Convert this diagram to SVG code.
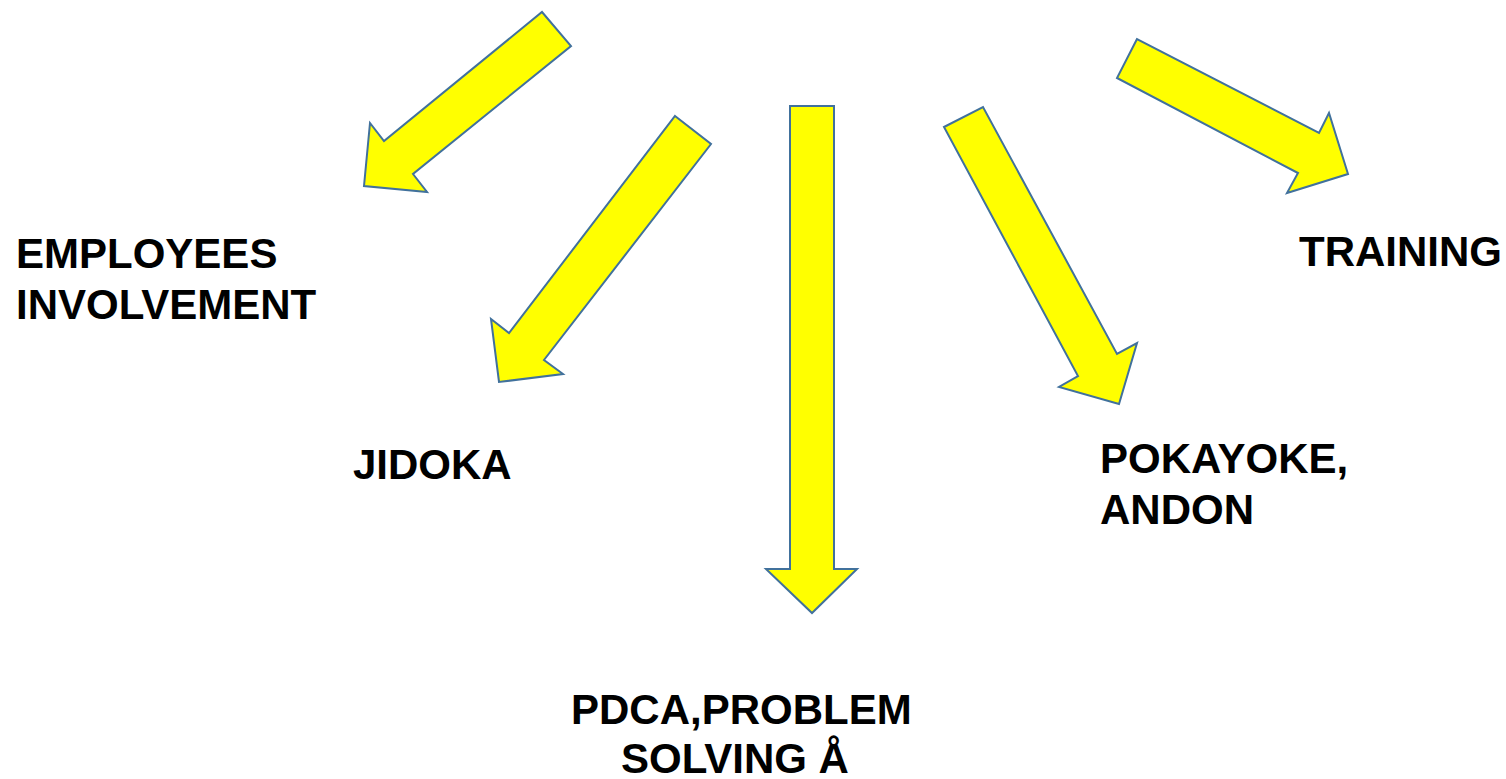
<svg xmlns="http://www.w3.org/2000/svg" width="1506" height="779" viewBox="0 0 1506 779">
  <style>
    .arrow { fill: #ffff00; stroke: #41719c; stroke-width: 2; stroke-linejoin: miter; }
    .label { font-family: "Liberation Sans", Arial, sans-serif; font-weight: bold; font-size: 42px; fill: #000000; }
  </style>
  <rect width="1506" height="779" fill="#ffffff"/>

  <g id="connectors">
    <polygon id="arrow-employees" class="arrow" points="542,12 571,46 413,174 427,192 364,186 370,123 384,141"/>
    <polygon id="arrow-jidoka" class="arrow" points="675,116 711,144 544,360 563,374 499,382 491,319 509,333"/>
    <polygon id="arrow-pdca" class="arrow" points="790,106 834,106 834,569 857,569 812,613 766,569 790,569"/>
    <polygon id="arrow-pokayoke" class="arrow" points="944,127 983,107 1117,354 1137,343 1119,404 1059,387 1078,376"/>
    <polygon id="arrow-training" class="arrow" points="1137,39 1117,78 1298,173 1287,193 1348,174 1329,113 1319,133"/>
  </g>

  <g id="node-employees">
    <text class="label" x="16" y="268">EMPLOYEES</text>
    <text class="label" x="16" y="319">INVOLVEMENT</text>
  </g>
  <g id="node-jidoka">
    <text class="label" x="353" y="479">JIDOKA</text>
  </g>
  <g id="node-pdca">
    <text class="label" x="571" y="724">PDCA,PROBLEM</text>
    <text class="label" x="621" y="773">SOLVING Å</text>
  </g>
  <g id="node-pokayoke">
    <text class="label" x="1100" y="473">POKAYOKE,</text>
    <text class="label" x="1100" y="524">ANDON</text>
  </g>
  <g id="node-training">
    <text class="label" x="1299" y="266">TRAINING</text>
  </g>
</svg>
